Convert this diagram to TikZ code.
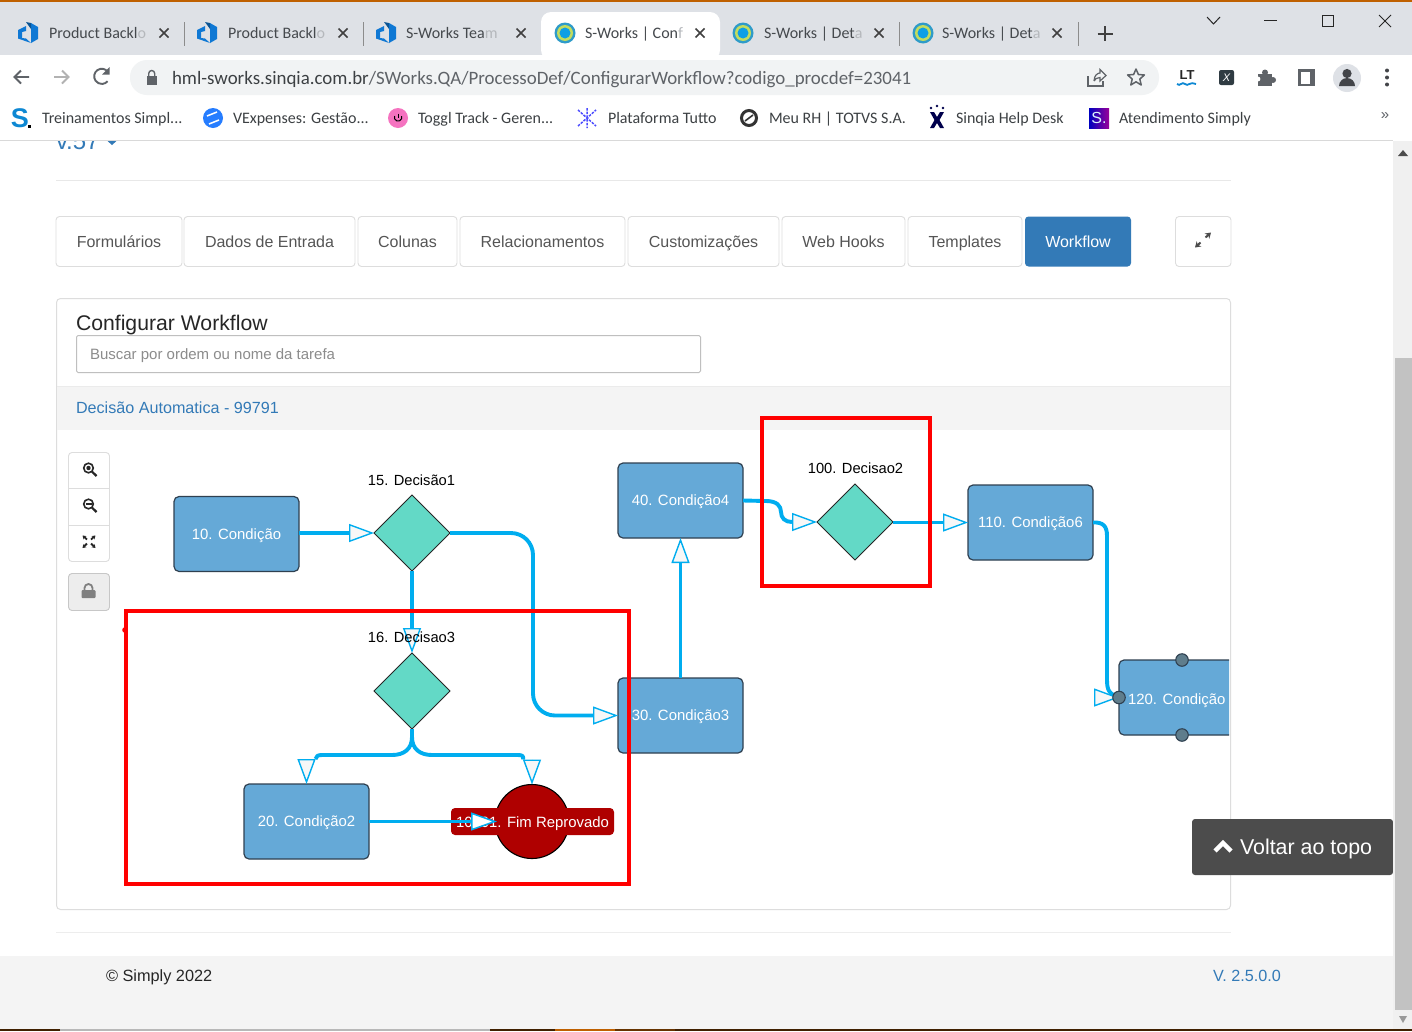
\documentclass[tikz,border=0pt]{standalone}
\usepackage{fontspec}
\setmainfont{Liberation Sans}
\newfontfamily\ui{Carlito}
\usetikzlibrary{arrows.meta,shapes.geometric,calc}
\definecolor{tabbar}{HTML}{DEE1E6}
\definecolor{omni}{HTML}{F1F3F4}
\definecolor{uitext}{HTML}{3C4043}
\definecolor{tabtext}{HTML}{45494D}
\definecolor{fadetxt}{HTML}{B5B8BC}
\definecolor{icon}{HTML}{5F6368}
\definecolor{rule}{HTML}{DDDDDD}
\definecolor{linkblue}{HTML}{337AB7}
\definecolor{boxblue}{HTML}{65A9D7}
\definecolor{boxline}{HTML}{2F4050}
\definecolor{teal}{HTML}{63D9C6}
\definecolor{cyanline}{HTML}{00ADEF}
\definecolor{crimson}{HTML}{AF0000}
\definecolor{handle}{HTML}{5F7D8C}
\definecolor{azure}{HTML}{0F78D4}
\definecolor{toptxt}{HTML}{555555}
\definecolor{footbg}{HTML}{F4F4F4}
\definecolor{swout}{HTML}{2E9BC9}
\definecolor{swmid}{HTML}{C3DC5E}
\definecolor{swin}{HTML}{0E9FE5}
\definecolor{xbadge}{HTML}{2F3B42}
\tikzset{
  x=1pt,y=-1pt,
  fnt/.style 2 args={font=\fontsize{#1}{#1}\selectfont,text height=#2pt,text depth=0pt},
  uifnt/.style 2 args={font=\ui\fontsize{#1}{#1}\selectfont,text height=#2pt,text depth=0pt},
  txt/.style={inner sep=0pt,outer sep=0pt,anchor=west},
  tabt/.style={txt,text=tabtext,uifnt={16}{10.3}},
  bmk/.style={txt,text=uitext,uifnt={16}{10.3}},
  navbtn/.style={draw=rule,fill=white,line width=.9pt,rounded corners=3.5pt},
  navtxt/.style={inner sep=0pt,text=toptxt,fnt={16}{11.5}},
  taskbox/.style={rectangle,draw=boxline,fill=boxblue,line width=1.2pt,rounded corners=5pt,minimum width=125pt,minimum height=75pt,inner sep=0pt,outer sep=0pt,text=white,fnt={14.9}{10.7}},
  decision/.style={diamond,aspect=1,draw=black!85,fill=teal,line width=1pt,minimum width=76pt,minimum height=76pt,inner sep=0pt,outer sep=0pt},
  dlabel/.style={inner sep=0pt,text=black,fnt={14.7}{10.6}},
  edge/.style={draw=cyanline,line width=3.9pt,line join=round},
  headtip/.style={-{Triangle[length=25pt,width=18pt,fill=white!97!black,line width=1.4pt]}},
  tiponly/.style={draw=cyanline,line width=1pt,headtip},
  hl/.style={draw=red,line width=3.5pt},
  knob/.style={circle,draw=boxline,fill=handle,line width=1.1pt,minimum size=12.5pt,inner sep=0pt},
  win/.style={draw=black!85,line width=1pt},
  ic/.style={draw=icon,line width=1.9pt},
}
\newcommand{\azicon}[2]{\begin{scope}[shift={(#1,#2)}]
 \fill[azure] (-10,-3) -- (-2,-7) -- (-2,-2) -- (-6,-1) -- (-6,5) -- (-2,5.5) -- (3,10) -- (-10,5.5) -- cycle;
 \fill[azure] (3,-10) -- (10,-6) -- (10,6) -- (3,10) -- cycle;
 \fill[azure!70!black] (-2,-11) -- (3,-10) -- (3,-4) -- cycle;
 \end{scope}}
\newcommand{\swicon}[2]{\fill[swout] (#1,#2) circle (10.5);\fill[swmid] (#1,#2) circle (8);\fill[swin] (#1,#2) circle (5.5);}
\newcommand{\lensicon}[3]{\draw[black!85,line width=1.6pt] (#1-1.5,#2-1) circle (4.8);\draw[black!85,line width=2.2pt] (#1+2,#2+2.6) -- (#1+6.5,#2+7);#3}
\begin{document}
\begin{tikzpicture}
\useasboundingbox (0,0) rectangle (1412,1031);
\fill[white] (0,0) rectangle (1412,1031);
% ---------- window chrome
\fill[tabbar] (0,0) rectangle (1412,55);
\fill[orange!75!black] (0,0) rectangle (1412,2);
\fill[white,rounded corners=10pt] (541,60) -- (541,12) -- (720,12) -- (720,60) -- cycle;
\azicon{28}{33}\azicon{207}{33}\azicon{386}{33}
\swicon{565}{33}\swicon{743}{33}\swicon{923}{33}
\node[tabt] (t1) at (49,33.5) {Product Backl{\color{fadetxt}o}};
\node[tabt] (t2) at (228,33.5) {Product Backl{\color{fadetxt}o}};
\node[tabt] (t3) at (406,33.5) {S-Works Tea{\color{fadetxt}m}};
\node[tabt] (t4) at (585,33.5) {S-Works | Con{\color{fadetxt}f}};
\node[tabt] (t5) at (764,33.5) {S-Works | Det{\color{fadetxt}a}};
\node[tabt] (t6) at (942,33.5) {S-Works | Det{\color{fadetxt}a}};
\foreach \x in {164,343,521,700,879,1057}{\draw[black!75,line width=1.6pt] (\x-4.5,33-4.5) -- (\x+4.5,33+4.5) (\x-4.5,33+4.5) -- (\x+4.5,33-4.5);}
\foreach \x in {184,363,899,1078}{\draw[black!45,line width=1pt] (\x,22) -- (\x,46);}
\draw[black!75,line width=2pt] (1105,26) -- (1105,41) (1097.5,33.5) -- (1112.5,33.5);
\draw[win] (1207,17) -- (1213.5,24) -- (1220,17);
\draw[win] (1264,20) -- (1277,20);
\draw[win] (1322,15) rectangle (1333,26);
\draw[win] (1379,15) -- (1391,27) (1379,27) -- (1391,15);
% ---------- toolbar
\fill[white] (0,55) rectangle (1412,140);
\draw[black!15,line width=1pt] (0,140) -- (1393,140);
\fill[omni,rounded corners=17pt] (130,60) rectangle (1159,95);
\draw[ic] (29,77) -- (15,77) (21,70.5) -- (14.5,77) -- (21,83.5);
\draw[black!30,line width=1.9pt] (54,77) -- (68,77) (62,70.5) -- (68.5,77) -- (62,83.5);
\draw[ic] (108,72) arc[start angle=-35,end angle=-320,radius=7.6];
\fill[icon] (109.5,67) -- (109.5,74.5) -- (102,74.5) -- cycle;
\fill[icon] (146.5,76) rectangle (157,85);
\draw[icon,line width=1.4pt] (148.7,76) -- (148.7,73.5) arc[start angle=180,end angle=360,radius=3] -- (154.7,76);
\node[txt,text=uitext,uifnt={18.9}{12.2}] (url) at (172,78) {hml-sworks.sinqia.com.br{\color{icon}/SWorks.QA/ProcessoDef/ConfigurarWorkflow?codigo\_procdef=23041}};
% share
\draw[icon,line width=1.2pt] (1088,76) -- (1088,86) -- (1103,86) -- (1103,81);
\draw[icon,line width=1.2pt] (1094,81) .. controls (1094,75) and (1098,73) .. (1100,73) -- (1100,69.5) -- (1106,75.5) -- (1100,81) -- (1100,77.5) .. controls (1097,77.5) and (1095,79) .. (1094,81);
% star
\draw[icon,line width=1.5pt,line join=round] (1136,69) -- (1138.4,74.5) -- (1144.4,75) -- (1139.8,79) -- (1141.2,85) -- (1136,81.8) -- (1130.8,85) -- (1132.2,79) -- (1127.6,75) -- (1133.6,74.5) -- cycle;
% LT
\node[inner sep=0pt,font=\bfseries\fontsize{13}{13}\selectfont,text=black!85] (lt) at (1187,75) {LT};
\draw[cyan!70!blue,line width=1.8pt] (1177,84) .. controls (1180,87) and (1182,81) .. (1185,84) .. controls (1188,87) and (1190,81) .. (1196,84);
% X
\fill[xbadge,rounded corners=2pt] (1219,70) rectangle (1234,85);
\node[inner sep=0pt,text=white,font=\fontsize{11}{11}\selectfont\itshape] (xi) at (1226.5,77.5) {X};
% puzzle
\fill[icon] (1258,74) rectangle (1272,86);
\fill[icon] (1265,72.5) circle (3);
\fill[icon] (1273,80) circle (3);
\fill[white] (1258,79) circle (2.4);
% side panel
\fill[icon] (1298,69) rectangle (1315,86);
\fill[white] (1300.5,71.5) rectangle (1309.5,83.5);
% avatar
\fill[tabbar] (1347,78) circle (14);
\fill[icon!70!black] (1347,73.5) circle (4.6);
\fill[icon!70!black] (1339,86) arc[start angle=180,end angle=360,radius=8] -- cycle;
\foreach \y in {70.5,77.5,84.5}{\fill[icon!70!black] (1387,\y) circle (2);}
% ---------- bookmarks
\node[inner sep=0pt,text=cyan!70!blue,font=\bfseries\fontsize{27}{27}\selectfont] (bs) at (20,118) {S};
\fill[black] (28,125) rectangle (31,128);
\node[bmk] (b1) at (42,118) {Treinamentos Simpl...};
\fill[blue!60!cyan!85!white] (213,118) circle (10);
\draw[white,line width=1.5pt] (207,116) -- (217,112) (209,124) -- (219,120);
\node[bmk] (b2) at (233,118) {VExpenses: Gestão...};
\fill[magenta!55!white] (398,118) circle (10);
\draw[black,line width=1pt] (398,113.5) -- (398,118);
\draw[black,line width=1pt] (394.5,116) arc[start angle=200,end angle=-20,radius=3.8];
\node[bmk] (b3) at (418,118) {Toggl Track - Geren...};
\draw[blue!70!white,line width=1.5pt,dash pattern=on 2.5pt off 1.2pt] (578,110) -- (596,126) (578,126) -- (596,110) (587,108) -- (587,128);
\node[bmk] (b4) at (608,118) {Plataforma Tutto};
\draw[black!80,line width=3pt] (749,118) circle (7.5);
\draw[black!80,line width=1.6pt] (745,121) -- (753,115);
\node[bmk] (b5) at (769,118) {Meu RH | TOTVS S.A.};
\fill[blue!30!black] (930,112) -- (934,112) -- (937,117) -- (940,112) -- (944,112) -- (939.5,120) -- (944,128) -- (940,128) -- (937,123) -- (934,128) -- (930,128) -- (934.5,120) -- cycle;
\foreach \x/\y in {931/108,937/106,943/108}{\fill[blue!30!black] (\x,\y) circle (1.3);}
\shade[left color=blue!75!black,right color=violet!80!magenta] (1089,108) rectangle (1109,128);
\node[inner sep=0pt,text=white!85!cyan,font=\fontsize{16}{16}\selectfont] (bsq) at (1099,118) {S.};
\node[bmk] (b6) at (956,118) {Sinqia Help Desk};
\node[bmk] (b7) at (1119,118) {Atendimento Simply};
\node[inner sep=0pt,text=icon,font=\fontsize{15}{15}\selectfont] (more) at (1385,116) {»};
% ---------- page
\begin{scope}
\clip (0,141) rectangle (1393,1031);
\node[txt,text=linkblue,fnt={24}{17}] (ver) at (56,141) {v.57};
\fill[linkblue] (107,140.5) -- (117,140.5) -- (112,145) -- cycle;
\end{scope}
\draw[black!9,line width=1pt] (56,180.5) -- (1231,180.5);
\foreach \xa/\xb/\nm/\lb in {56/182/bf/Formulários,184/355/bd/Dados de Entrada,358/457/bc/Colunas,460/625/br/Relacionamentos,628/779/bu/Customizações,782/905/bw/Web Hooks,908/1022/bt/Templates}{
  \draw[navbtn] (\xa,216.5) rectangle (\xb,266.5);
  \node[navtxt] (\nm) at ({(\xa+\xb)/2},241.5) {\lb};
}
\fill[linkblue,rounded corners=3.5pt] (1025,216.5) rectangle (1131,266.5);
\node[navtxt,text=white] (bwf) at (1078,241.5) {Workflow};
\draw[navbtn] (1175.5,216.5) rectangle (1231,266.5);
\draw[black!70,line width=2pt,-{Stealth[length=5.5pt,width=7pt]}] (1200.5,242.5) -- (1195,247.5);
\draw[black!70,line width=2pt,-{Stealth[length=5.5pt,width=7pt]}] (1205.5,237.5) -- (1211,232.5);
% panel
\draw[draw=rule,line width=1pt,rounded corners=4pt] (56.5,298.5) rectangle (1230.5,909.5);
\node[txt,text=black!85,fnt={21.2}{15.2}] (ptitle) at (76,323) {Configurar Workflow};
\draw[draw=black!25,line width=1pt,fill=white,rounded corners=1.5pt] (76.5,335.5) rectangle (700.5,372.5);
\node[txt,text=black!45,fnt={15}{10.8}] (search) at (90,354) {Buscar por ordem ou nome da tarefa};
\fill[black!4.5] (57,386) rectangle (1230,430);
\draw[black!8,line width=.8pt] (57,386) -- (1230,386);
\node[txt,text=linkblue,fnt={16.15}{11.6}] (ptask) at (76,408) {Decisão Automatica - 99791};
% zoom controls
\draw[navbtn] (68.5,452.5) rectangle (109.5,561.5);
\draw[rule,line width=.9pt] (68.5,488.5) -- (109.5,488.5) (68.5,525) -- (109.5,525);
\lensicon{90}{469}{\fill[black!85] (88.5,468) circle (2.2);}
\lensicon{90}{505}{\draw[black!85,line width=1.4pt] (85.5,504) -- (91.5,504);}
\draw[black!85,line width=1.8pt,-{Stealth[length=3.5pt,width=4.5pt]}] (87,539.5) -- (82.5,535.5);
\draw[black!85,line width=1.8pt,-{Stealth[length=3.5pt,width=4.5pt]}] (91,539.5) -- (95.5,535.5);
\draw[black!85,line width=1.8pt,-{Stealth[length=3.5pt,width=4.5pt]}] (87,543.5) -- (82.5,548);
\draw[black!85,line width=1.8pt,-{Stealth[length=3.5pt,width=4.5pt]}] (91,543.5) -- (95.5,548);
\draw[draw=black!22,fill=black!7,line width=.9pt,rounded corners=3.5pt] (68.5,573.5) rectangle (109.5,610.5);
\fill[black!50,rounded corners=1pt] (81.5,590) rectangle (95.5,598);
\draw[black!50,line width=1.8pt] (84.5,590) -- (84.5,588) arc[start angle=180,end angle=360,radius=4] -- (92.5,590);
% ---------- diagram nodes
\node[taskbox] (n10) at (236.5,534) {10. Condição};
\node[decision] (d15) at (412,533) {};
\node[decision] (d16) at (412,691) {};
\node[taskbox] (n20) at (306.5,821.5) {20. Condição2};
\node[taskbox] (n30) at (680.5,715.5) {30. Condição3};
\node[taskbox] (n40) at (680.5,500.5) {40. Condição4};
\node[decision] (d100) at (855,522) {};
\node[taskbox] (n110) at (1030.5,522.5) {110. Condição6};
\node[circle,draw=black,fill=crimson,line width=1.1pt,minimum size=74pt,inner sep=0pt,outer sep=0pt] (fim) at (532,821.5) {};
\fill[crimson,rounded corners=4pt] (451,808) rectangle (614,835);
\node[txt,text=white,fnt={14.9}{10.7}] (fimt) at (456,822) {10001. Fim Reprovado};
\begin{scope}
\clip (1100,640) rectangle (1229,750);
\node[taskbox] (n120) at (1181.5,697.5) {};
\end{scope}
\node[txt,text=white,fnt={14.9}{10.7}] (n120t) at (1128,699) {120. Condição};
% ---------- bend points
\coordinate (b15) at (533,620);
\coordinate (b16l) at (322,755);
\coordinate (b16r) at (518,755);
\coordinate (b16a) at (392,755);
\coordinate (b16b) at (432,755);
\coordinate (b40) at (766,501);
\coordinate (b110) at (1107,600);
\coordinate (t20) at ($(n20.north)+(0,-25)$);
\coordinate (tfim) at ($(fim.north)+(0,-25)$);
\coordinate (t100) at ($(d100.west)+(-25,0)$);
\coordinate (t120) at ($(n120.west)+(-25,0)$);
% ---------- connectors
\draw[edge,headtip] (n10.east |- d15.west) -- (d15.west);
\draw[edge,headtip] (d15.south) -- (d16.north);
\draw[edge,headtip,rounded corners=22pt] (d15.east) -| (b15) |- (n30.west);
\draw[edge,headtip] (n30.north) -- (n40.south);
\draw[edge,headtip] (n110.west -| d100.east) -- (n110.west);
\draw[edge] (d16.south) -- ($(d16.south)+(0,8)$) .. controls ($(d16.south)+(0,20)$) and ($(b16a)+(12,0)$) .. (b16a) -- (b16l) .. controls ($(b16l)+(-4,0)$) and ($(b16l)+(-6,1)$) .. ($(t20)+(9,0)$);
\draw[edge] (d16.south) -- ($(d16.south)+(0,8)$) .. controls ($(d16.south)+(0,20)$) and ($(b16b)+(-12,0)$) .. (b16b) -- (b16r) .. controls ($(b16r)+(4,0)$) and ($(b16r)+(6,1)$) .. ($(tfim)+(-9,0)$);
\draw[tiponly] (t20) -- (n20.north);
\draw[tiponly] (tfim) -- (fim.north);
\draw[edge,-{Triangle[length=26pt,width=18pt,fill=white,line width=1.5pt]}] (n20.east) -- ($(fim.west)+(2,0)$);
\draw[edge] (n40.east) -- (b40) .. controls (777,501) and (781,506) .. (781,512) .. controls (781,518) and (785,522) .. (t100);
\draw[tiponly] (t100) -- (d100.west);
\draw[edge] (n110.east) .. controls (1103,522) and (1107,526) .. (1107,536) -- (b110) -- (1107,680) .. controls (1107,690) and (1109,694) .. (n120.west);
\draw[tiponly] (t120) -- (n120.west);
\node[knob] (k1) at (1182,660) {};
\node[knob] (k2) at (n120.west) {};
\node[knob] (k3) at (1182,735) {};
% decision labels
\node[dlabel] (l15) at (411.5,480) {15. Decisão1};
\node[dlabel] (l16) at (411.5,637) {16. Decisao3};
\node[dlabel] (l100) at (855.5,468) {100. Decisao2};
% highlights
\draw[hl] (126,611) rectangle (629,884);
\fill[red] (125,630) circle (2.8);
\draw[hl] (762,418) rectangle (930,586);
% ---------- footer
\draw[black!7,line width=1pt] (56,932.5) -- (1231,932.5);
\fill[footbg] (0,956) rectangle (1394,1031);
\node[txt,text=black!85,fnt={16.3}{11.7}] (copy) at (106,975.5) {© Simply 2022};
\node[txt,text=linkblue,fnt={16.2}{11.6}] (vfoot) at (1213,975.5) {V. 2.5.0.0};
% back to top
\fill[black!70,rounded corners=3pt] (1192,819) -- (1393,819) -- (1393,875) -- (1192,875) -- cycle;
\draw[white,line width=4.4pt] (1215,851) -- (1223,843) -- (1231,851);
\node[txt,text=white,fnt={21.4}{15.4}] (top) at (1240,847) {Voltar ao topo};
% ---------- scrollbar
\fill[black!6] (1393,141) rectangle (1412,1029);
\fill[black!24] (1395,358) rectangle (1412,1010);
\fill[black!70] (1398,156) -- (1408,156) -- (1403,150) -- cycle;
\fill[black!40] (1399,1016) -- (1407,1016) -- (1403,1023) -- cycle;
% ---------- taskbar sliver
\fill[black!75!orange] (0,1029) rectangle (1412,1031);
\fill[black!28] (60,1029) rectangle (490,1031);
\fill[orange!75!black] (555,1029) rectangle (615,1031);
\fill[black!60!orange] (615,1029) rectangle (675,1031);
\end{tikzpicture}
\end{document}
